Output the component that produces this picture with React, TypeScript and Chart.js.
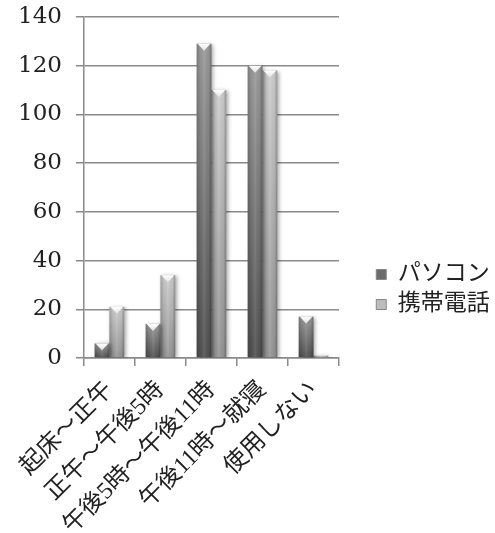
import React, { useEffect, useRef } from "react";
import { Chart, registerables } from "chart.js";

Chart.register(...registerables);

const categories = ["起床～正午", "正午～午後5時", "午後5時～午後11時", "午後11時～就寝", "使用しない"];
const pcValues = [6, 14, 129, 120, 17];
const mobileValues = [21, 34, 110, 118, 1];
const seriesNames = ["パソコン", "携帯電話"];
const yTicks = [0, 20, 40, 60, 80, 100, 120, 140];

const NUM_FONT = "'DejaVu Serif', 'Noto Sans CJK JP', serif";
const LABEL_FONT = "'Liberation Serif', 'Noto Sans CJK JP', serif";
const CATEGORY_PCT = 0.58;

// Per-series vertical shading: [top, bottom]
const shades = [
  ["#9c9c9c", "#525252"],
  ["#cfcfcf", "#969696"],
];
const legendFill = ["#6c6c6c", "#bdbdbd"];

function barFill(ctx: any) {
  const chart = ctx.chart;
  const di = ctx.datasetIndex;
  const ys = chart.scales && chart.scales.y;
  if (!ys || ctx.type !== "data" || !isFinite(ys.height) || ys.height <= 0) {
    return shades[di][0];
  }
  const v = ctx.raw as number;
  const top = ys.getPixelForValue(v);
  const bottom = ys.getPixelForValue(0);
  const g = chart.ctx.createLinearGradient(0, top, 0, bottom + 0.01);
  g.addColorStop(0, shades[di][0]);
  g.addColorStop(1, shades[di][1]);
  return g;
}

const barStylePlugin = {
  id: "barStyle",
  afterLayout(chart: any) {
    // legend hugs the right edge, a little below the middle
    const lg = chart.legend;
    if (lg) {
      const w = lg.width;
      lg.left = chart.width - 4 - w;
      lg.right = lg.left + w;
      lg.top += 22;
      lg.bottom += 22;
    }
  },
  beforeDatasetsDraw(chart: any) {
    const ctx = chart.ctx;
    ctx.save();
    ctx.shadowColor = "rgba(0,0,0,0.35)";
    ctx.shadowBlur = 4;
    ctx.shadowOffsetX = 2;
    ctx.shadowOffsetY = 1;
  },
  afterDatasetsDraw(chart: any) {
    const ctx = chart.ctx;
    ctx.restore();
    chart.data.datasets.forEach((_ds: any, di: number) => {
      const meta = chart.getDatasetMeta(di);
      meta.data.forEach((bar: any) => {
        const h = bar.base - bar.y;
        const half = bar.width / 2;
        const left = bar.x - half;
        // rounded-edge shading across the bar
        const sg = ctx.createLinearGradient(left, 0, left + bar.width, 0);
        sg.addColorStop(0, "rgba(0,0,0,0.22)");
        sg.addColorStop(0.25, "rgba(0,0,0,0.04)");
        sg.addColorStop(0.5, "rgba(255,255,255,0.10)");
        sg.addColorStop(0.8, "rgba(0,0,0,0.04)");
        sg.addColorStop(1, "rgba(0,0,0,0.28)");
        ctx.fillStyle = sg;
        ctx.fillRect(left, bar.y, bar.width, h);
        if (h < 4) return;
        // bevelled top
        const depth = Math.min(7, h * 0.5);
        ctx.beginPath();
        ctx.moveTo(left + 1, bar.y);
        ctx.lineTo(left + bar.width - 1, bar.y);
        ctx.lineTo(bar.x, bar.y + depth);
        ctx.closePath();
        const g = ctx.createLinearGradient(0, bar.y, 0, bar.y + depth);
        g.addColorStop(0, "#ffffff");
        g.addColorStop(1, "#e2e2e2");
        ctx.fillStyle = g;
        ctx.fill();
      });
    });
  },
};

export default function App() {
  const canvasRef = useRef<HTMLCanvasElement | null>(null);

  useEffect(() => {
    if (!canvasRef.current) return;
    const chart = new Chart(canvasRef.current, {
      type: "bar",
      data: {
        labels: categories,
        datasets: [
          {
            label: seriesNames[0],
            data: pcValues,
            backgroundColor: barFill,
            borderWidth: 0,
          },
          {
            label: seriesNames[1],
            data: mobileValues,
            backgroundColor: barFill,
            borderWidth: 0,
          },
        ],
      },
      options: {
        animation: false,
        responsive: false,
        maintainAspectRatio: false,
        datasets: {
          bar: { categoryPercentage: CATEGORY_PCT, barPercentage: 1 },
        },
        layout: { padding: { top: 2, right: 4, left: 4, bottom: 0 } },
        plugins: {
          legend: {
            position: "right",
            align: "center",
            labels: {
              boxWidth: 10,
              boxHeight: 10,
              padding: 7,
              color: "#222",
              font: { family: NUM_FONT, size: 23 },
              generateLabels: (chart: any) =>
                chart.data.datasets.map((ds: any, i: number) => ({
                  text: ds.label,
                  fillStyle: legendFill[i],
                  strokeStyle: "#888",
                  lineWidth: 1,
                  hidden: false,
                  datasetIndex: i,
                  fontColor: "#222",
                })),
            },
          },
          tooltip: { enabled: false },
        },
        scales: {
          x: {
            afterFit: (scale: any) => {
              scale.paddingLeft = 71;
              scale.paddingRight = 156;
              scale.height = 175;
            },
            grid: {
              drawOnChartArea: false,
              offset: true,
              tickLength: 8,
              color: "#8a8a8a",
              lineWidth: 1.5,
            },
            border: { color: "#8a8a8a", width: 1.5 },
            ticks: {
              maxRotation: 45,
              minRotation: 45,
              color: "#222",
              padding: 10,
              font: { family: LABEL_FONT, size: 24 },
            },
          },
          y: {
            min: 0,
            max: 140,
            afterBuildTicks: (axis: any) => {
              axis.ticks = yTicks.map((v) => ({ value: v }));
            },
            afterFit: (scale: any) => {
              scale.paddingTop = 17;
            },
            grid: {
              color: "#8a8a8a",
              lineWidth: 1.5,
              tickLength: 8,
            },
            border: { color: "#8a8a8a", width: 1.5 },
            ticks: {
              color: "#222",
              padding: 14,
              font: { family: NUM_FONT, size: 23 },
            },
          },
        },
      },
      plugins: [barStylePlugin],
    });
    return () => chart.destroy();
  }, []);

  return (
    <div style={{ position: "fixed", left: 0, top: 0, width: 495, height: 533, background: "#fff" }}>
      <canvas ref={canvasRef} width={495} height={533} style={{ width: 495, height: 533 }} />
    </div>
  );
}
